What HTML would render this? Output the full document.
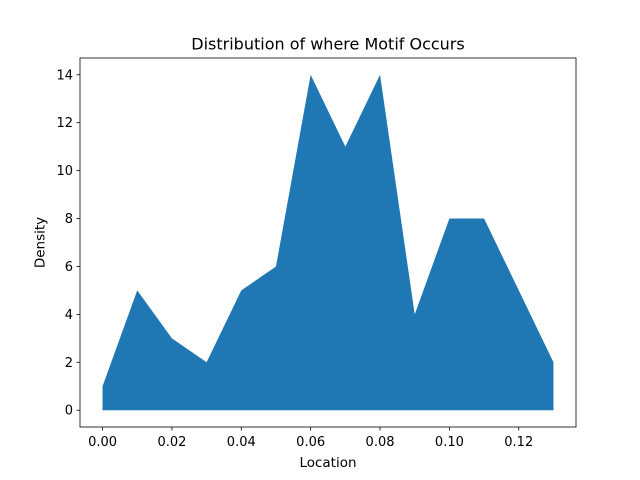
<!DOCTYPE html>
<html><head><meta charset="utf-8"><style>body{margin:0;background:#fff}svg{display:block}text{font-family:"DejaVu Sans","Liberation Sans",sans-serif;fill:#000}</style></head>
<body>
<svg id="chart" width="640" height="480" xmlns="http://www.w3.org/2000/svg">
<rect width="640" height="480" fill="#fff"/>
<text x="328" y="49.5" font-size="16" text-anchor="middle">Distribution of where Motif Occurs</text>
<g id="plot"></g>
<rect x="80" y="58" width="496" height="369" fill="none" stroke="#000" stroke-width="0.8"/>
<text x="328" y="467" font-size="13.5" text-anchor="middle">Location</text>
<text transform="translate(44.5,242.5) rotate(-90)" font-size="13.5" text-anchor="middle">Density</text>
</svg>
<script>
const locations=[0,0.01,0.02,0.03,0.04,0.05,0.06,0.07,0.08,0.09,0.10,0.11,0.12,0.13];
const densities=[1,5,3,2,5,6,14,11,14,4,8,8,5,2];
const xTicks=[0,0.02,0.04,0.06,0.08,0.10,0.12];
const xTickLabels=["0.00","0.02","0.04","0.06","0.08","0.10","0.12"];
const yTicks=[0,2,4,6,8,10,12,14];
const NS="http://www.w3.org/2000/svg";
const L=80,R=576,T=58,B=427;
const xmin=-0.0065,xmax=0.1365,ymin=-0.7,ymax=14.7;
const sx=v=>L+(v-xmin)/(xmax-xmin)*(R-L);
const sy=v=>B-(v-ymin)/(ymax-ymin)*(B-T);
const g=document.getElementById('plot');
let d=`M${sx(locations[0])},${sy(0)}`;
locations.forEach((x,i)=>d+=` L${sx(x)},${sy(densities[i])}`);
d+=` L${sx(locations[locations.length-1])},${sy(0)} Z`;
const p=document.createElementNS(NS,'path');
p.setAttribute('d',d);p.setAttribute('fill','#1f77b4');


g.appendChild(p);
xTicks.forEach((v,i)=>{
const l=document.createElementNS(NS,'line');
l.setAttribute('x1',sx(v));l.setAttribute('x2',sx(v));l.setAttribute('y1',B);l.setAttribute('y2',B+3.5);l.setAttribute('stroke','#000');l.setAttribute('stroke-width','0.8');


g.appendChild(l);
const t=document.createElementNS(NS,'text');
t.setAttribute('x',sx(v));t.setAttribute('y',B+19);t.setAttribute('font-size','13');t.setAttribute('text-anchor','middle');t.textContent=xTickLabels[i];


g.appendChild(t);});
yTicks.forEach(v=>{
const l=document.createElementNS(NS,'line');
l.setAttribute('x1',L-3.5);l.setAttribute('x2',L);l.setAttribute('y1',sy(v));l.setAttribute('y2',sy(v));l.setAttribute('stroke','#000');l.setAttribute('stroke-width','0.8');


g.appendChild(l);
const t=document.createElementNS(NS,'text');
t.setAttribute('x',L-7);t.setAttribute('y',sy(v)+4.5);t.setAttribute('font-size','13');t.setAttribute('text-anchor','end');t.textContent=v;


g.appendChild(t);});
</script>
</body></html>
